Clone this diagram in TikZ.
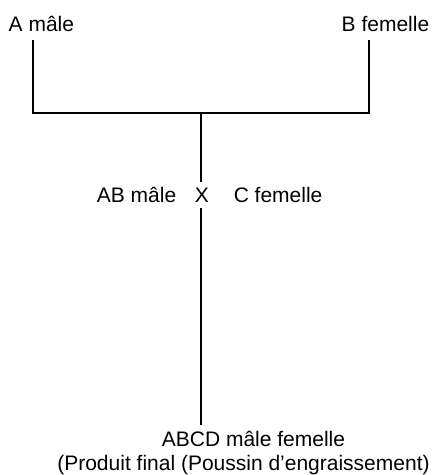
\documentclass[tikz,border=0pt]{standalone}
\usepackage{fontspec}
\setmainfont{Liberation Sans}
\begin{document}
\begin{tikzpicture}[x=1pt,y=-1pt,
  line width=1.5pt,
  lbl/.style={font=\fontsize{21}{25}\selectfont, inner sep=0pt}]
\useasboundingbox (0,0) rectangle (434,475);
% parents
\node[lbl, anchor=base west] (a) at (8,31) {A mâle};
\node[lbl, anchor=base east] (b) at (430,31) {B femelle};
% cross
\node[lbl, anchor=base east] (ab) at (177,202) {AB mâle};
\node[lbl, anchor=base, inner sep=5pt] (x) at (202,202) {X};
\node[lbl, anchor=base west] (c) at (233,202) {C femelle};
% final product
\node[lbl, anchor=base] (abcd) at (253.5,446) {ABCD mâle femelle};
\node[lbl, anchor=base] (prod) at (243.5,470) {(Produit final (Poussin d’engraissement)};
% connector points
\coordinate (afoot) at (33,40);
\coordinate (bfoot) at (369,40);
\coordinate (join) at (201,113);
\coordinate (stem) at (201,425);
\draw (afoot) |- (join) -| (bfoot);
\draw (join) -- (x.north -| join);
\draw (x.south -| join) -- (stem);
\end{tikzpicture}
\end{document}
